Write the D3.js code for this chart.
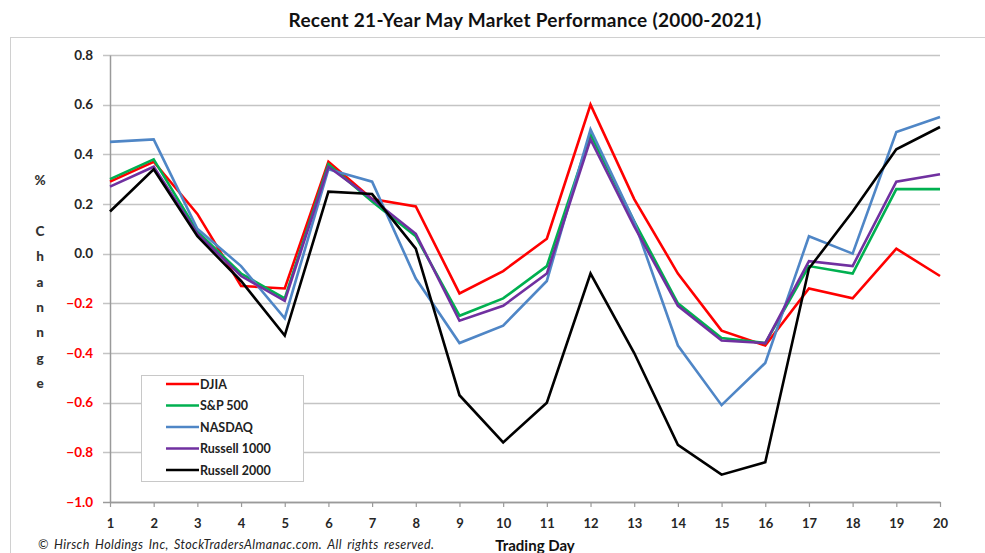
<!DOCTYPE html>
<html>
<head>
<meta charset="utf-8">
<script src="https://cdn.jsdelivr.net/npm/d3@7"></script>
<style>
  body { margin: 0; background: #fff; }
  svg text { font-family: Lato, "Open Sans", sans-serif; }
</style>
</head>
<body>
<div id="chart"></div>
<script>
// Trading days of May
const days = d3.range(1, 21);

// Average % change per trading day
const djia = [0.29, 0.37, 0.16, -0.13, -0.14, 0.37, 0.22, 0.19, -0.16, -0.07, 0.06, 0.6, 0.22, -0.08, -0.31, -0.37, -0.14, -0.18, 0.02, -0.09];
const sp500 = [0.3, 0.38, 0.09, -0.08, -0.18, 0.36, 0.21, 0.07, -0.25, -0.18, -0.05, 0.48, 0.13, -0.2, -0.34, -0.36, -0.05, -0.08, 0.26, 0.26];
const nasdaq = [0.45, 0.46, 0.1, -0.05, -0.26, 0.34, 0.29, -0.1, -0.36, -0.29, -0.11, 0.5, 0.13, -0.37, -0.61, -0.44, 0.07, 0.0, 0.49, 0.55];
const russell1000 = [0.27, 0.35, 0.08, -0.09, -0.19, 0.35, 0.22, 0.08, -0.27, -0.21, -0.08, 0.46, 0.11, -0.21, -0.35, -0.36, -0.03, -0.05, 0.29, 0.32];
const russell2000 = [0.17, 0.34, 0.07, -0.11, -0.33, 0.25, 0.24, 0.02, -0.57, -0.76, -0.6, -0.08, -0.4, -0.77, -0.89, -0.84, -0.06, 0.17, 0.42, 0.51];

const seriesNames = ["DJIA", "S&P 500", "NASDAQ", "Russell 1000", "Russell 2000"];
const yTicks = [0.8, 0.6, 0.4, 0.2, 0.0, -0.2, -0.4, -0.6, -0.8, -1.0];

const colors = ["#ff0000", "#00b050", "#4f86c6", "#7030a0", "#000000"];

const width = 985;
const height = 553;
const plot = { left: 110, right: 940, top: 55, bottom: 502 };

const series = [djia, sp500, nasdaq, russell1000, russell2000].map(function (vals, i) {
  return { name: seriesNames[i], color: colors[i], values: vals };
});

const svg = d3
  .select("#chart")
  .append("svg")
  .attr("width", width)
  .attr("height", height);

// outer chart border (runs off the right and bottom edges)
svg
  .append("rect")
  .attr("x", 10.5)
  .attr("y", 37.5)
  .attr("width", 990)
  .attr("height", 530)
  .attr("fill", "white")
  .attr("stroke", "#d0d0d0")
  .attr("stroke-width", 1);

svg
  .append("text")
  .attr("x", 525)
  .attr("y", 27)
  .attr("text-anchor", "middle")
  .attr("font-size", 19)
  .attr("font-weight", "bold")
  .attr("letter-spacing", 0.3)
  .attr("fill", "#111")
  .text("Recent 21-Year May Market Performance (2000-2021)");

const x = d3.scaleLinear().domain([1, 20]).range([plot.left, plot.right]);
const y = d3.scaleLinear().domain([-1, 0.8]).range([plot.bottom, plot.top]);

// horizontal gridlines
svg
  .append("g")
  .attr("class", "grid")
  .selectAll("line")
  .data(yTicks)
  .enter()
  .append("line")
  .attr("x1", plot.left - 7)
  .attr("x2", plot.right)
  .attr("y1", function (d) { return Math.round(y(d)) + 0.5; })
  .attr("y2", function (d) { return Math.round(y(d)) + 0.5; })
  .attr("stroke", function (d) { return d === -1 ? "#9a9a9a" : "#c4c4c4"; })
  .attr("stroke-width", 1.5);

// y axis
const yAxis = svg
  .append("g")
  .attr("transform", "translate(" + plot.left + ",0)")
  .call(
    d3.axisLeft(y)
      .tickValues(yTicks)
      .tickSize(0)
      .tickPadding(17)
      .tickFormat(function (d) {
        var s = Math.abs(d).toFixed(1);
        return d < 0 ? "\u2212" + s : s;
      })
  );
yAxis.select(".domain").attr("stroke", "#9a9a9a").attr("stroke-width", 1.5);
yAxis
  .selectAll("text")
  .attr("font-size", 13.5)
  .attr("font-weight", "bold")
  .attr("fill", function (d) { return d < 0 ? "#ff0000" : "#262626"; });

// x axis
const xAxis = svg
  .append("g")
  .attr("transform", "translate(0," + plot.bottom + ")")
  .call(
    d3.axisBottom(x)
      .tickValues(days)
      .tickSize(5)
      .tickPadding(12)
      .tickSizeOuter(0)
      .tickFormat(d3.format("d"))
  );
xAxis.select(".domain").attr("stroke", "#9a9a9a").attr("stroke-width", 1.5);
xAxis.selectAll(".tick line").attr("stroke", "#9a9a9a").attr("stroke-width", 1.2);
xAxis
  .selectAll("text")
  .attr("font-size", 13)
  .attr("font-weight", "bold")
  .attr("fill", "#262626");

// stacked "% Change" label
const yLabel = ["%", "C", "h", "a", "n", "n", "g", "e"];
svg
  .append("g")
  .selectAll("text")
  .data(yLabel)
  .enter()
  .append("text")
  .attr("x", 40)
  .attr("y", function (d, i) {
    return i === 0 ? 185 : 236 + (i - 1) * 25.3;
  })
  .attr("text-anchor", "middle")
  .attr("font-size", 13.5)
  .attr("font-weight", "900")
  .attr("fill", "#333")
  .text(function (d) { return d; });

svg
  .append("text")
  .attr("x", 535)
  .attr("y", 551)
  .attr("text-anchor", "middle")
  .attr("font-size", 15)
  .attr("font-weight", "bold")
  .attr("fill", "#111")
  .text("Trading Day");

svg
  .append("text")
  .attr("x", 38)
  .attr("y", 549)
  .attr("font-size", 12.5)
  .attr("font-style", "italic")
  .attr("letter-spacing", 0.4)
  .attr("word-spacing", 2)
  .attr("fill", "#222")
  .text("\u00a9 Hirsch  Holdings Inc, StockTradersAlmanac.com.  All rights reserved.");

// series lines
const line = d3
  .line()
  .x(function (d, i) { return x(days[i]); })
  .y(function (d) { return y(d); });

svg
  .append("g")
  .attr("class", "lines")
  .selectAll("path")
  .data(series)
  .enter()
  .append("path")
  .attr("fill", "none")
  .attr("stroke", function (d) { return d.color; })
  .attr("stroke-width", 2.6)
  .attr("stroke-linejoin", "miter")
  .attr("d", function (d) { return line(d.values); });

// legend
const legend = svg.append("g").attr("class", "legend");

legend
  .append("rect")
  .attr("x", 141.5)
  .attr("y", 375.5)
  .attr("width", 162)
  .attr("height", 106)
  .attr("fill", "white")
  .attr("stroke", "#c8c8c8")
  .attr("stroke-width", 1);

const items = legend
  .selectAll(".item")
  .data(series)
  .enter()
  .append("g")
  .attr("class", "item")
  .attr("transform", function (d, i) {
    return "translate(166," + (384 + i * 21.5) + ")";
  });

items
  .append("line")
  .attr("x1", 0)
  .attr("x2", 33)
  .attr("stroke", function (d) { return d.color; })
  .attr("stroke-width", 2.6);

items
  .append("text")
  .attr("x", 34)
  .attr("y", 4.5)
  .attr("font-size", 12.5)
  .attr("font-weight", "bold")
  .attr("fill", "#222")
  .text(function (d) { return d.name; });
</script>
</body>
</html>
